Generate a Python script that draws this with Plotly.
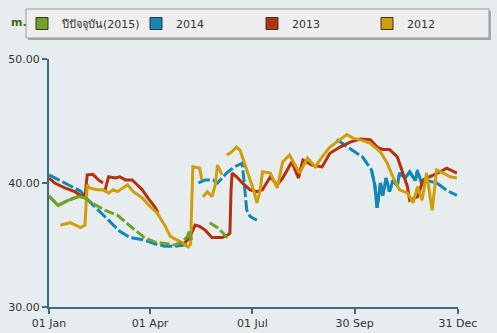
import pandas as pd
import plotly.graph_objects as go

BASE = pd.Timestamp("2015-01-01")

series_names = ["ปีปัจจุบัน(2015)", "2014", "2013", "2012"]
series_colors = ["#73a028", "#1287b3", "#b5300c", "#cf9e08"]

# day offsets from 1 Jan, values (None = gap)
days_2015 = [0, 8, 17, 26, 32, 38, 50, 61, 74, 85, 94, 103, 112, 118, 123, 125, 127, 135,
             143, 150, 154, 158, 161]
vals_2015 = [38.95, 38.2, 38.6, 38.9, 38.8, 38.4, 37.8, 37.4, 36.4, 35.6, 35.25, 35.1, 35.0,
             35.25, 35.65, 36.2, 35.4, None, 36.8, 36.4, 36.05, 35.65, 35.8]

days_2014 = [0, 10, 19, 28, 35, 45, 54, 63, 72, 85, 94, 103, 112, 121, 127, 130,
             133, 139, 146, 150, 158, 165, 172, 174, 176, 179, 185, 220,
             256, 268, 279, 287, 290, 292, 295, 297, 300, 303, 306, 310, 312, 317, 321,
             326, 328, 332, 336, 345, 354, 363]
vals_2014 = [40.65, 40.2, 39.8, 39.35, 38.6, 37.7, 36.9, 36.1, 35.6, 35.4, 35.1, 34.9, 34.9,
             35.0, 35.15, None,
             40.0, 40.25, 40.25, 40.0, 40.8, 41.3, 41.6, 39.45, 37.8, 37.3, 37.0, None,
             43.5, 42.8, 42.1, 41.05, 39.8, 38.0, 40.0, 39.0, 40.4, 39.3, 40.2, 39.8, 40.8,
             40.4, 40.9, 40.2, 41.05, 39.8, 40.2, 40.0, 39.4, 39.0]

days_2013 = [0, 5, 14, 23, 29, 32, 34, 39, 44, 48, 49, 50, 53, 59, 63, 68, 74, 78, 83, 88, 94,
             97, 110, 118, 121, 125, 130, 134, 139, 145, 154, 159, 161, 162, 163, 167, 172,
             179, 185, 190, 197, 203, 208, 216, 222, 226, 234, 243, 250, 259, 268, 277, 286,
             292, 297, 303, 310, 314, 319, 321, 328, 333, 339, 348, 354, 363]
vals_2013 = [40.4, 40.0, 39.6, 39.3, 38.95, 38.9, 40.65, 40.7, 40.25, 40.0, None, 39.45, 40.5,
             40.4, 40.5, 40.25, 40.25, 39.9, 39.45, 38.8, 38.1, 37.6, None, 35.0, 35.2, 35.55,
             36.6, 36.5, 36.2, 35.6, 35.6, 35.8, 35.95, 39.4, 40.8, 40.5, 40.0, 39.45, 39.3,
             39.45, 40.5, 39.85, 40.4, 41.7, 40.4, 41.85, 41.45, 41.3, 42.4, 42.9, 43.3, 43.55,
             43.5, 42.9, 42.7, 42.7, 42.1, 41.05, 39.7, 38.6, 38.9, 40.25, 40.5, 40.9, 41.2,
             40.8]

days_2012 = [10, 19, 28, 32, 34, 36, 43, 48, 53, 57, 61, 66, 70, 75, 83, 90, 96, 103, 108,
             117, 124, 126, 128, 134, 136, 136.5, 137, 141, 145, 148, 150, 154, 156, 158, 161,
             167, 170, 176, 182, 185, 188, 190, 197, 203, 208, 214, 223, 230, 237, 243, 250,
             259, 265, 271, 277, 286, 295, 301, 306, 312, 319, 324, 328, 332, 336, 341, 345,
             351, 357, 363]
vals_2012 = [36.6, 36.8, 36.4, 36.6, 39.85, 39.6, 39.45, 39.45, 39.2, 39.45, 39.3, 39.6, 39.85,
             39.3, 38.8, 38.1, 37.6, 36.6, 35.7, 35.25, 34.85, 35.1, 41.3, 41.2, 40.25, None,
             38.9, 39.3, 38.9, 39.85, 41.45, 40.65, None, 42.26, 42.4, 42.9, 42.66, 41.05,
             39.45, 38.4, 39.45, 40.9, 40.8, 39.6, 41.7, 42.26, 40.8, 42.0, 41.3, 42.1, 42.9,
             43.5, 43.9, 43.6, 43.5, 43.2, 42.5, 41.6, 40.5, 39.45, 39.2, 38.4, 39.7, 38.6,
             40.8, 37.8, 41.05, 40.8, 40.5, 40.4]

x_tick_days = [0, 90, 181, 272, 364]
x_tick_labels = ["01 Jan", "01 Apr", "01 Jul", "30 Sep", "31 Dec"]
y_ticks = [30, 40, 50]


def to_dates(days):
    return [BASE + pd.Timedelta(days=d) for d in days]


all_days = [days_2015, days_2014, days_2013, days_2012]
all_vals = [vals_2015, vals_2014, vals_2013, vals_2012]
line_dash = ["10px,3px", "12px,3px", "solid", "solid"]
# day windows where a broken (dashed) series is drawn continuous in the original
solid_windows = {0: [(0, 38)], 1: [(286, 330)]}

fig = go.Figure()

# line traces: draw order blue, red, gold, green
for idx in [1, 2, 3, 0]:
    fig.add_trace(go.Scatter(
        x=to_dates(all_days[idx]), y=all_vals[idx], mode="lines",
        line=dict(color=series_colors[idx], width=3, dash=line_dash[idx]),
        connectgaps=False, showlegend=False, hoverinfo="skip"))
    for lo, hi in solid_windows.get(idx, []):
        sel = [(d, v) for d, v in zip(all_days[idx], all_vals[idx]) if lo <= d <= hi]
        fig.add_trace(go.Scatter(
            x=to_dates([d for d, _ in sel]), y=[v for _, v in sel], mode="lines",
            line=dict(color=series_colors[idx], width=3),
            connectgaps=False, showlegend=False, hoverinfo="skip"))

W, H = 497, 333
ml, mr, mt, mb = 49, 39, 59, 26
pw, ph = W - ml - mr, H - mt - mb

# one legend per entry so each can be placed like the original
legend_px = [22, 136, 252, 367]
legend_ids = ["legend", "legend2", "legend3", "legend4"]
for idx in range(4):
    fig.add_trace(go.Scatter(
        x=[None], y=[None], mode="markers", name=series_names[idx],
        legend=legend_ids[idx],
        marker=dict(symbol="square", size=12, color=series_colors[idx],
                    line=dict(color="#333333", width=1))))

axis_col = "#3c6b7b"
fig.update_xaxes(
    type="date",
    range=[BASE, BASE + pd.Timedelta(days=364)],
    tickvals=to_dates(x_tick_days), ticktext=x_tick_labels,
    showline=True, linecolor=axis_col, linewidth=2,
    ticks="outside", ticklen=5, tickwidth=2, tickcolor=axis_col,
    showgrid=False, zeroline=False, automargin=False,
    tickfont=dict(family="DejaVu Sans", size=11, color="#333333"))
fig.update_yaxes(
    range=[30, 50], tickvals=y_ticks, tickformat=".2f",
    showline=True, linecolor=axis_col, linewidth=2,
    ticks="outside", ticklen=5, tickwidth=2, tickcolor=axis_col,
    showgrid=False, zeroline=False, automargin=False,
    tickfont=dict(family="DejaVu Sans", size=11, color="#333333"))


def px_x(px):
    return (px - ml) / pw


def px_y(py):
    return 1 - (py - mt) / ph


fig.add_annotation(text="<b>m.</b>", xref="paper", yref="paper",
                   x=px_x(9), y=px_y(23), xanchor="left", yanchor="middle",
                   showarrow=False, font=dict(family="DejaVu Sans", size=11, color="#3d6a10"))

# legend shadow and box
fig.add_shape(type="rect", xref="paper", yref="paper",
              x0=px_x(28), x1=px_x(491), y0=px_y(40), y1=px_y(11),
              fillcolor="#a8a8a8", line=dict(width=0), layer="above")
fig.add_shape(type="rect", xref="paper", yref="paper",
              x0=px_x(26), x1=px_x(489), y0=px_y(38), y1=px_y(9),
              fillcolor="#eeeeee", line=dict(width=1, color="#9a9a9a"), layer="above")

legend_common = dict(orientation="h", xref="container", yref="container",
                     yanchor="top", xanchor="left",
                     bgcolor="rgba(0,0,0,0)", borderwidth=0,
                     font=dict(family="DejaVu Sans", size=11, color="#333333"),
                     itemclick=False, itemdoubleclick=False)
legend_layout = {}
for idx in range(4):
    legend_layout[legend_ids[idx]] = dict(legend_common, x=legend_px[idx] / W, y=1 - 9 / H)

fig.update_layout(
    width=W, height=H,
    margin=dict(l=ml, r=mr, t=mt, b=mb, autoexpand=False),
    paper_bgcolor="#e7edef", plot_bgcolor="#e7edef",
    showlegend=True,
    **legend_layout,
)

fig.write_html("out.html")
